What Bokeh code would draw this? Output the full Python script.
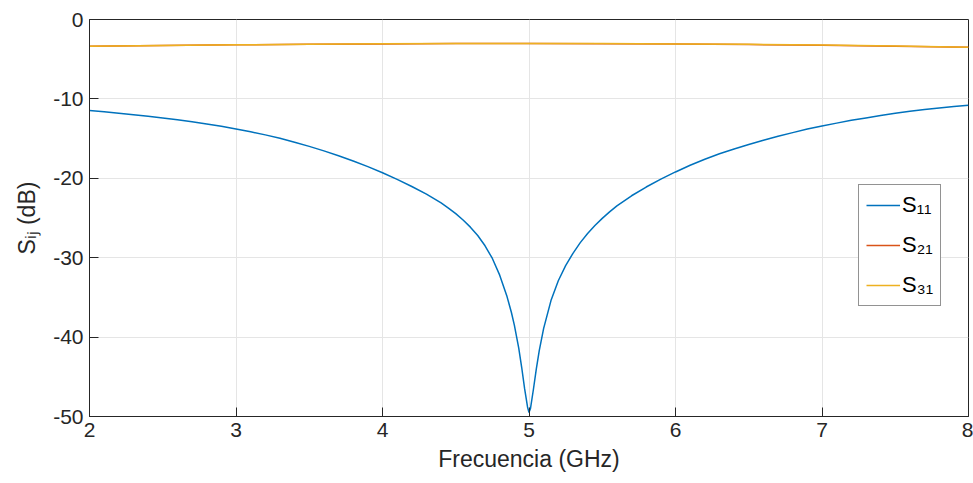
from bokeh.plotting import figure
from bokeh.models import (Range1d, FixedTicker, Legend, LegendItem, ColumnDataSource)
from bokeh.embed import file_html
from bokeh.resources import INLINE

# ---- data ----
freq_s11 = [2.0, 2.1, 2.2, 2.3, 2.4, 2.5, 2.6, 2.7, 2.8, 2.9, 3.0, 3.1, 3.2, 3.3,
            3.4, 3.5, 3.6, 3.7, 3.8, 3.9, 4.0, 4.1, 4.2, 4.3, 4.4, 4.45, 4.5,
            4.55, 4.6, 4.65, 4.7, 4.75, 4.8, 4.85, 4.88, 4.9, 4.93, 4.95, 4.97,
            4.99, 5.0, 5.01, 5.03, 5.05, 5.07, 5.1, 5.15, 5.2, 5.25, 5.3, 5.35,
            5.4, 5.45, 5.5, 5.55, 5.6, 5.7, 5.8, 5.9, 6.0, 6.1, 6.2, 6.3, 6.4,
            6.5, 6.6, 6.7, 6.8, 6.9, 7.0, 7.1, 7.2, 7.3, 7.4, 7.5, 7.6, 7.7,
            7.8, 7.9, 8.0]
s11_db = [-11.45, -11.62, -11.8, -11.99, -12.19, -12.4, -12.63, -12.88, -13.15,
          -13.45, -13.78, -14.14, -14.53, -14.95, -15.45, -15.98, -16.55, -17.16,
          -17.82, -18.53, -19.3, -20.13, -21.03, -22.0, -23.1, -23.75, -24.45,
          -25.25, -26.15, -27.2, -28.5, -30.1, -32.2, -34.9, -36.9, -38.5,
          -41.4, -43.8, -46.5, -48.8, -49.5, -49.0, -46.6, -44.0, -41.7, -38.9,
          -35.4, -32.9, -31.0, -29.45, -28.1, -26.95, -25.95, -25.05, -24.23,
          -23.48, -22.2, -21.1, -20.1, -19.2, -18.35, -17.6, -16.9, -16.3,
          -15.75, -15.2, -14.7, -14.25, -13.8, -13.4, -13.05, -12.7, -12.4,
          -12.1, -11.82, -11.57, -11.35, -11.15, -10.97, -10.8]

freq_s21 = [2.0, 2.5, 3.0, 3.5, 4.0, 4.5, 5.0, 5.5, 6.0, 6.5, 7.0, 7.5, 8.0]
s21_db = [-3.38, -3.28, -3.19, -3.12, -3.07, -3.03, -3.02, -3.04, -3.08, -3.15,
          -3.25, -3.37, -3.50]
s31_db = [-3.38, -3.28, -3.19, -3.12, -3.06, -3.02, -3.01, -3.03, -3.07, -3.13,
          -3.22, -3.34, -3.48]

x_ticks = [2, 3, 4, 5, 6, 7, 8]
x_tick_labels = ["2", "3", "4", "5", "6", "7", "8"]
y_ticks = [-50, -40, -30, -20, -10, 0]
y_tick_labels = ["-50", "-40", "-30", "-20", "-10", "0"]
series_labels = ["S\u2081\u2081", "S\u2082\u2081", "S\u2083\u2081"]
x_label = "Frecuencia (GHz)"
y_label = "S\u1d62\u2c7c (dB)"

# ---- style ----
FONT = "Liberation Sans"
DARK = "#262626"
GRID = "#e5e5e5"
colors = ["#0072BD", "#D95319", "#EDB120"]

p = figure(width=973, height=483, output_backend="svg", toolbar_location=None,
           x_range=Range1d(2, 8), y_range=Range1d(-50, 0),
           min_border_left=89, min_border_right=5, min_border_top=19,
           min_border_bottom=67)
p.background_fill_color = "white"
p.border_fill_color = "white"
p.outline_line_color = DARK
p.outline_line_width = 1

src11 = ColumnDataSource(dict(x=freq_s11, y=s11_db))
src21 = ColumnDataSource(dict(x=freq_s21, y=s21_db))
src31 = ColumnDataSource(dict(x=freq_s21, y=s31_db))
r1 = p.line("x", "y", source=src11, line_color=colors[0], line_width=1.5)
r2 = p.line("x", "y", source=src21, line_color=colors[1], line_width=1.5)
r3 = p.line("x", "y", source=src31, line_color=colors[2], line_width=1.5)

for ax in (p.xaxis[0], p.yaxis[0]):
    ax.major_tick_in = 9
    ax.major_tick_out = 0
    ax.minor_tick_in = 0
    ax.minor_tick_out = 0
    ax.axis_line_color = DARK
    ax.major_tick_line_color = DARK
    ax.major_label_text_font = FONT
    ax.major_label_text_font_size = "21px"
    ax.major_label_text_color = DARK
    ax.axis_label_text_font = FONT
    ax.axis_label_text_font_size = "23px"
    ax.axis_label_text_font_style = "normal"
    ax.axis_label_text_color = DARK

p.xaxis[0].ticker = FixedTicker(ticks=x_ticks)
p.yaxis[0].ticker = FixedTicker(ticks=y_ticks)
p.xaxis[0].major_label_overrides = dict(zip(x_ticks, x_tick_labels))
p.yaxis[0].major_label_overrides = dict(zip(y_ticks, y_tick_labels))
p.xaxis[0].axis_label = x_label
p.yaxis[0].axis_label = y_label
p.xaxis[0].major_label_standoff = 6
p.xaxis[0].axis_label_standoff = 6
p.yaxis[0].major_label_standoff = 6
p.yaxis[0].axis_label_standoff = 10

p.xgrid.ticker = FixedTicker(ticks=x_ticks)
p.ygrid.ticker = FixedTicker(ticks=y_ticks)
p.xgrid.grid_line_color = GRID
p.ygrid.grid_line_color = GRID

legend = Legend(items=[LegendItem(label=series_labels[0], renderers=[r1]),
                       LegendItem(label=series_labels[1], renderers=[r2]),
                       LegendItem(label=series_labels[2], renderers=[r3])],
                location=(769, 110))
legend.label_text_font = FONT
legend.label_text_font_size = "22px"
legend.label_text_color = "black"
legend.glyph_width = 34
legend.glyph_height = 20
legend.label_height = 20
legend.spacing = 14
legend.padding = 7
legend.margin = 0
legend.label_standoff = 2
legend.border_line_color = DARK
legend.border_line_width = 1
legend.background_fill_color = "white"
legend.background_fill_alpha = 1
p.add_layout(legend, "center")

open("out.html", "w").write(file_html(p, INLINE))
